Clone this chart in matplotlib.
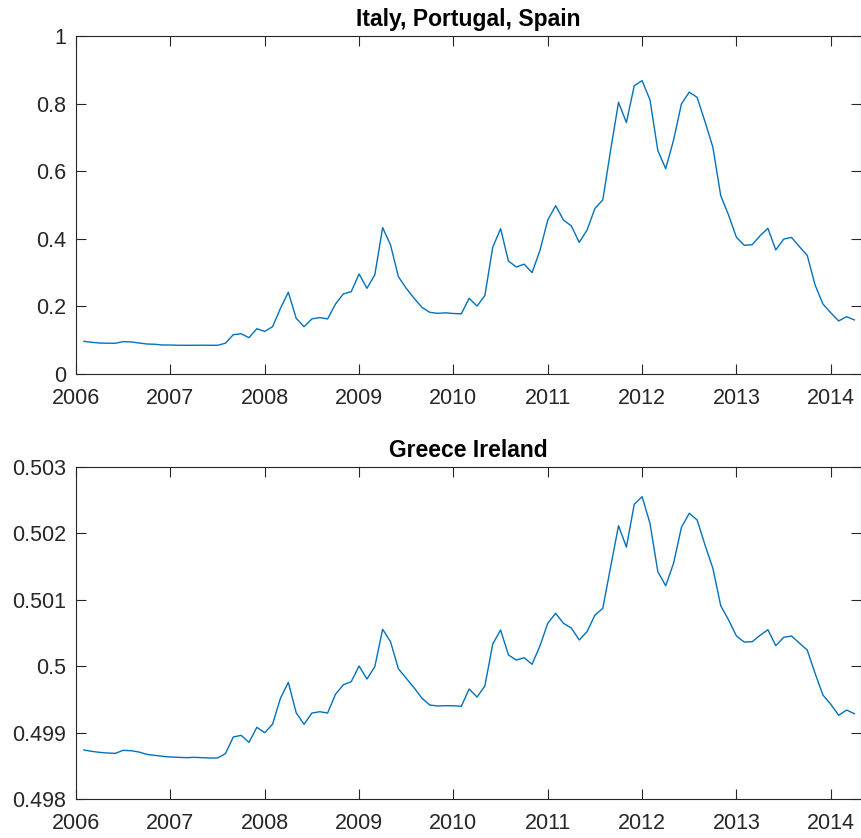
import matplotlib
matplotlib.use("Agg")
import matplotlib.pyplot as plt
import numpy as np
import pandas as pd

# monthly observations, Feb 2006 .. Apr 2014
months = pd.date_range("2006-02-01", "2014-04-01", freq="MS")
t = months.year + (months.month - 1) / 12.0

ips = [0.0967, 0.0937, 0.0917, 0.091, 0.091, 0.0957, 0.095, 0.0917, 0.0888, 0.088,
       0.0858, 0.0858, 0.085, 0.085, 0.085, 0.0852, 0.085, 0.085, 0.091, 0.1163,
       0.119, 0.1075, 0.134, 0.126, 0.140, 0.194, 0.242, 0.165, 0.140, 0.163,
       0.167, 0.163, 0.207, 0.237, 0.2435, 0.296, 0.2535, 0.293, 0.433, 0.382,
       0.288, 0.2535, 0.224, 0.197, 0.1825, 0.1795, 0.181, 0.179, 0.178, 0.224,
       0.201, 0.232, 0.375, 0.430, 0.334, 0.3166, 0.325, 0.300, 0.365, 0.4556,
       0.498, 0.4556, 0.438, 0.3895, 0.426, 0.490, 0.515, 0.663, 0.804, 0.744,
       0.853, 0.868, 0.811, 0.661, 0.6075, 0.692, 0.799, 0.834, 0.8185, 0.7465,
       0.671, 0.5276, 0.470, 0.4043, 0.3807, 0.3826, 0.409, 0.431, 0.367, 0.399,
       0.4043, 0.377, 0.351, 0.2633, 0.207, 0.181, 0.157, 0.1696, 0.160]

gi = [0.498738, 0.498718, 0.498703, 0.498693, 0.498688, 0.498733, 0.498728, 0.498708, 0.498673, 0.498658,
      0.498643, 0.498633, 0.498628, 0.498623, 0.498628, 0.498623, 0.498618, 0.498618, 0.498683, 0.498934,
      0.498959, 0.498854, 0.499080, 0.498999, 0.499128, 0.499517, 0.499757, 0.499300, 0.499125, 0.499295,
      0.499315, 0.499295, 0.499577, 0.499721, 0.499767, 0.500003, 0.499807, 0.499993, 0.500556, 0.500369,
      0.499962, 0.499818, 0.499676, 0.499517, 0.499416, 0.499401, 0.499406, 0.499405, 0.499396, 0.499657,
      0.499536, 0.499702, 0.500334, 0.500545, 0.500169, 0.500093, 0.500128, 0.500029, 0.500304, 0.500646,
      0.500797, 0.500646, 0.500575, 0.500395, 0.500520, 0.500771, 0.500872, 0.501499, 0.502116, 0.501795,
      0.502438, 0.502553, 0.502152, 0.501423, 0.501212, 0.501550, 0.502092, 0.502303, 0.502202, 0.501825,
      0.501474, 0.500911, 0.500696, 0.500455, 0.500364, 0.500369, 0.500465, 0.500550, 0.500309, 0.500435,
      0.500455, 0.500349, 0.500244, 0.499893, 0.499566, 0.499426, 0.499261, 0.499340, 0.499285]

year_ticks = list(range(2006, 2015))
top_yticks = [0, 0.2, 0.4, 0.6, 0.8, 1]
top_ylabels = ["0", "0.2", "0.4", "0.6", "0.8", "1"]
bot_yticks = [0.498, 0.499, 0.5, 0.501, 0.502, 0.503]
bot_ylabels = ["0.498", "0.499", "0.5", "0.501", "0.502", "0.503"]

plt.rcParams["font.family"] = ["Liberation Sans", "DejaVu Sans"]
dark = "#262626"
blue = "#0072BD"

fig = plt.figure(figsize=(8.61, 8.38), dpi=100)
ax1 = fig.add_axes([0.0883, 0.5537, 0.9117, 0.4033])
ax2 = fig.add_axes([0.0883, 0.0465, 0.9117, 0.3962])

panels = [
    (ax1, ips, "Italy, Portugal, Spain", top_yticks, top_ylabels, (0, 1)),
    (ax2, gi, "Greece Ireland", bot_yticks, bot_ylabels, (0.498, 0.503)),
]

for ax, vals, title, yt, yl, ylim in panels:
    ax.plot(t, vals, color=blue, linewidth=1.0)
    ax.set_xlim(2006, 2014.32)
    ax.set_ylim(*ylim)
    ax.set_xticks(year_ticks)
    ax.set_xticklabels([str(y) for y in year_ticks])
    ax.set_yticks(yt)
    ax.set_yticklabels(yl)
    ax.tick_params(direction="in", length=7, width=0.8, colors=dark,
                   labelsize=15.5, top=True, right=True)
    ax.tick_params(axis="x", pad=10)
    ax.tick_params(axis="y", pad=7)
    for s in ax.spines.values():
        s.set_color(dark)
        s.set_linewidth(0.8)
    ax.set_title(title, fontsize=16.5, fontweight="bold", pad=7)

fig.savefig("out.png", dpi=100)
